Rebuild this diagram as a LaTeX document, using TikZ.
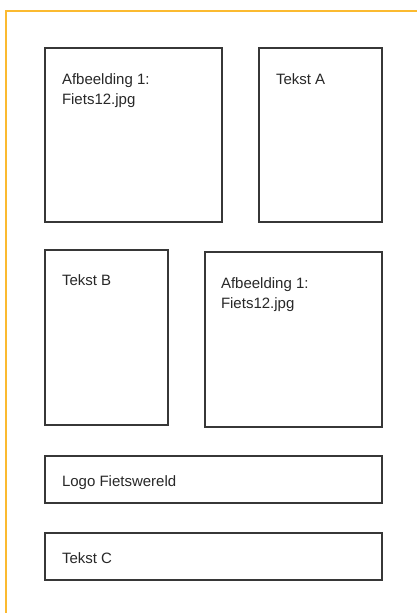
\documentclass[tikz,border=0pt]{standalone}
\usepackage{fontspec}
\setmainfont{Liberation Sans}
\definecolor{frameorange}{RGB}{251,186,48}
\definecolor{boxgray}{RGB}{55,55,55}
\definecolor{txtgray}{RGB}{40,40,40}
\newcommand{\tlines}[2]{\vtop{\baselineskip=20pt\hbox{#1}\hbox{#2}}}
\begin{document}
\begin{tikzpicture}[x=1pt,y=-1pt,
  frameline/.style={draw=frameorange,line width=2pt},
  box/.style={draw=boxgray,line width=1.1pt,rectangle,inner sep=0pt,outer sep=0pt,anchor=north west},
  lbl/.style={text=txtgray,inner sep=0pt,outer sep=0pt,anchor=base west,font=\fontsize{15}{20}\selectfont}]
\useasboundingbox (0,0) rectangle (417,613);
\fill[white] (0,0) rectangle (417,613);
% frame
\coordinate (fb) at (6,613);
\coordinate (fc) at (6,11);
\coordinate (fr) at (417,11);
\draw[frameline] (fb) -- (fc) -- (fr);
% boxes
\node[box,minimum width=177pt,minimum height=174pt] (b1) at (45,48) {};
\node[box,minimum width=123pt,minimum height=174pt] (b2) at (259,48) {};
\node[box,minimum width=123pt,minimum height=175pt] (b3) at (45,250) {};
\node[box,minimum width=177pt,minimum height=175pt] (b4) at (205,252) {};
\node[box,minimum width=337pt,minimum height=47pt] (b5) at (45,456) {};
\node[box,minimum width=337pt,minimum height=47pt] (b6) at (45,533) {};
% labels
\node[lbl] (t1) at (62,84) {\tlines{Afbeelding 1:}{Fiets12.jpg}};
\node[lbl] (t2) at (276,84) {Tekst A};
\node[lbl] (t3) at (62,285) {Tekst B};
\node[lbl] (t4) at (221,288) {\tlines{Afbeelding 1:}{Fiets12.jpg}};
\node[lbl] (t5) at (62,486) {Logo Fietswereld};
\node[lbl] (t6) at (62,563) {Tekst C};
\end{tikzpicture}
\end{document}
